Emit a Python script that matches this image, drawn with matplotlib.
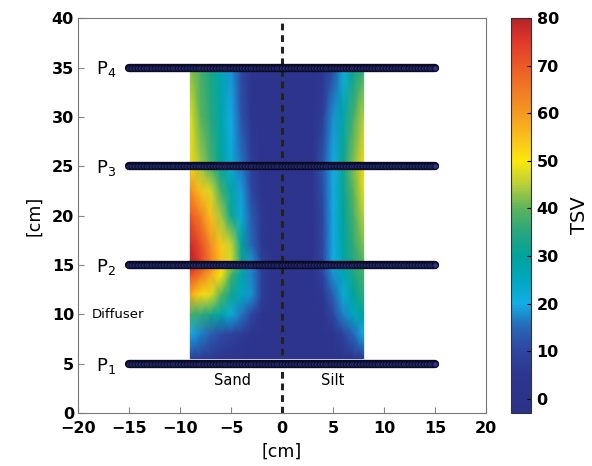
import numpy as np
import matplotlib
matplotlib.use("Agg")
import matplotlib.pyplot as plt
from matplotlib.colors import LinearSegmentedColormap

# --- data ---
grid_x = [-9, -8, -7, -6, -5, -4, -3, -2, -1, 0, 1, 2, 3, 4, 5, 6, 7, 8]
grid_y = [5.5, 8, 10, 12, 14, 15.5, 17, 20, 22.5, 25, 30, 35.3]

# TSV values, one row per grid_y, one column per grid_x
tsv = [
    [8, 7, 6, 5, 4, 3, 2, 2, 2, 2, 2, 2, 2, 2, 2, 3, 4, 6],
    [20, 17, 14, 11, 9, 7, 4, 3, 2, 2, 2, 2, 2, 2, 4, 9, 15, 20],
    [38, 36, 33, 28, 22, 16, 10, 5, 3, 2, 2, 2, 2, 4, 10, 17, 25, 30],
    [58, 52, 48, 40, 32, 25, 18, 8, 3, 2, 2, 2, 3, 6, 14, 22, 30, 36],
    [72, 66, 58, 50, 38, 28, 17, 8, 3, 2, 2, 2, 4, 9, 18, 26, 33, 38],
    [80, 74, 64, 55, 47, 32, 18, 8, 4, 2, 2, 2, 4, 10, 20, 28, 35, 40],
    [78, 72, 62, 54, 46, 30, 15, 6, 3, 2, 2, 2, 4, 10, 20, 29, 36, 42],
    [70, 64, 55, 44, 32, 22, 13, 6, 3, 2, 2, 2, 4, 10, 20, 30, 38, 45],
    [62, 55, 47, 38, 28, 19, 10, 4, 2, 2, 2, 2, 4, 11, 20, 31, 40, 48],
    [52, 44, 38, 30, 22, 16, 8, 3, 2, 2, 2, 2, 4, 12, 20, 32, 42, 52],
    [48, 40, 35, 28, 20, 12, 5, 2, 2, 2, 2, 2, 3, 8, 18, 28, 38, 45],
    [42, 38, 33, 27, 18, 10, 4, 2, 2, 2, 2, 2, 2, 5, 10, 20, 30, 36],
]

probe_y = [5, 15, 25, 35]
probe_labels = ["P$_1$", "P$_2$", "P$_3$", "P$_4$"]
probe_x = np.linspace(-15, 15, 201)  # sensor positions along each probe

cbar_ticks = [0, 10, 20, 30, 40, 50, 60, 70, 80]
vmin, vmax = -3, 80

# muted jet-like colour scale, as printed in the reference
cmap_stops = [
    (-3, "#2b3288"), (5, "#2d3590"), (10, "#2f45a0"), (15, "#2768b8"),
    (20, "#12aee6"), (25, "#00a7bf"), (30, "#00a39a"), (35, "#27a77e"),
    (40, "#5cb35c"), (45, "#b7cf3a"), (50, "#fbe70c"), (55, "#f9c01a"),
    (60, "#f59a22"), (65, "#f17a24"), (70, "#ec5a26"), (75, "#e3392a"),
    (80, "#b8222a"),
]
tsv_cmap = LinearSegmentedColormap.from_list(
    "tsv", [((v - vmin) / (vmax - vmin), c) for v, c in cmap_stops]
)

# --- figure ---
fig = plt.figure(figsize=(5.92, 4.66), dpi=100)
ax = fig.add_axes([0.132, 0.114, 0.689, 0.847])
cax = fig.add_axes([0.863, 0.114, 0.034, 0.847])

X, Y = np.meshgrid(grid_x, grid_y)
mesh = ax.pcolormesh(X, Y, np.array(tsv), cmap=tsv_cmap, vmin=vmin, vmax=vmax,
                     shading="gouraud", zorder=1)

ax.plot([0, 0], [0, 40], color="#222222", lw=2.2, ls=(0, (2.2, 1.6)), zorder=2)

for py, lab in zip(probe_y, probe_labels):
    ax.plot([-15, 15], [py, py], color="#0a0a1e", lw=6, solid_capstyle="round",
            zorder=3)
    ax.plot(probe_x, [py] * len(probe_x), ls="none", marker="o", ms=4,
            mfc="#2a3590", mec="#0a0a1e", mew=0.6, zorder=4)
    ax.text(-17.3, py - 0.2, lab, fontsize=13, ha="center", va="center")

ax.text(-18.7, 10, "Diffuser", fontsize=9.5, ha="left", va="center")
ax.text(-4.9, 3.3, "Sand", fontsize=10.5, ha="center", va="center")
ax.text(5.0, 3.3, "Silt", fontsize=10.5, ha="center", va="center")

ax.set_xlim(-20, 20)
ax.set_ylim(0, 40)
ax.set_xticks(range(-20, 21, 5))
ax.set_yticks(range(0, 41, 5))
ax.tick_params(direction="in", length=4, color="#888888", labelsize=11.5)
ax.tick_params(axis="x", pad=6)
ax.tick_params(axis="y", pad=3)
for lab in ax.get_xticklabels() + ax.get_yticklabels():
    lab.set_fontweight("bold")
for sp in ax.spines.values():
    sp.set_color("#777777")
ax.set_xlabel("[cm]", fontsize=12.5, labelpad=5)
ax.set_ylabel("[cm]", fontsize=12.5, labelpad=6)

cb = fig.colorbar(mesh, cax=cax, ticks=cbar_ticks)
cb.ax.tick_params(direction="in", length=3, labelsize=11.5, pad=4)
for lab in cb.ax.get_yticklabels():
    lab.set_fontweight("bold")
cb.outline.set_color("#333333")
cb.set_label("TSV", fontsize=14, labelpad=8)

fig.savefig("out.png", dpi=100)
